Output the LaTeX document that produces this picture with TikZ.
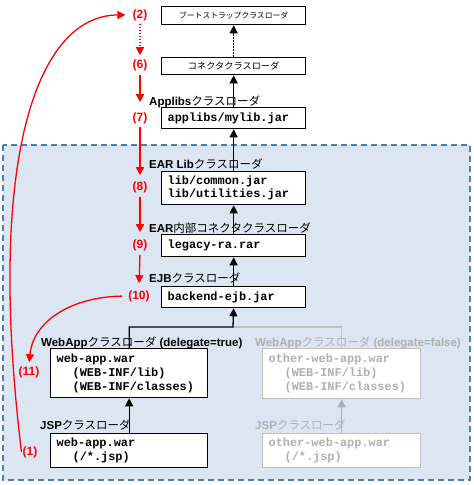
\documentclass[tikz,border=0pt]{standalone}
\usepackage{fontspec}
\setmainfont{Liberation Sans}
\setmonofont{Liberation Mono}
\newfontfamily\jp{Noto Sans CJK JP}
\usetikzlibrary{arrows.meta}
\definecolor{myred}{HTML}{FF0000}
\definecolor{regfill}{HTML}{DCE6F2}
\definecolor{regline}{HTML}{4A7EBB}
\definecolor{ghost}{HTML}{B0B0B0}
\definecolor{ghostline}{HTML}{C0C0C0}
\newcommand{\jpt}[1]{{\mdseries\jp #1}}
\begin{document}
\begin{tikzpicture}[x=1pt,y=-1pt,
  box/.style={draw=black, line width=1.3pt, fill=white, inner xsep=6pt, inner ysep=0pt,
    text width=132pt, align=left, anchor=north west,
    font=\ttfamily\bfseries\fontsize{11.9}{14}\selectfont},
  gbox/.style={box, draw=ghostline, text=ghost, text width=134pt},
  cbox/.style={draw=black, line width=1.3pt, fill=white, inner sep=0pt,
    minimum width=144pt, anchor=north west, font=\jp},
  lab/.style={anchor=base west, inner sep=0pt, font=\bfseries\fontsize{11.5}{12}\selectfont},
  glab/.style={lab, text=ghost},
  rlab/.style={inner sep=1pt, text=myred, font=\bfseries\fontsize{12}{12}\selectfont},
  tip/.style={-{Triangle[width=8pt,length=8pt]}},
  barrow/.style={tip, draw=black, line width=1.3pt},
  garrow/.style={tip, draw=ghost, line width=1.3pt},
  gline/.style={draw=ghostline, line width=1.3pt},
  rarrow/.style={tip, draw=myred, line width=1.3pt},
  dots/.style={dash pattern=on 1.6pt off 1.4pt}
]
\useasboundingbox (0,0) rectangle (474,485);
% region
\draw[regline, fill=regfill, line width=1.4pt, dash pattern=on 6pt off 4pt] (3,145) rectangle (470,480);

% column boxes
\node[cbox, minimum height=18pt, font=\jp\fontsize{7.8}{9}\selectfont] (boot) at (161,6) {ブートストラップクラスローダ};
\node[cbox, minimum height=17pt, font=\jp\fontsize{9.2}{10}\selectfont] (conn) at (161,57) {コネクタクラスローダ};
\node[box, minimum height=21pt] (applibs) at (161,107) {applibs/mylib.jar};
\node[box, minimum height=33pt, font=\ttfamily\bfseries\fontsize{11.9}{13.3}\selectfont] (earlib) at (161,171) {lib/common.jar\\lib/utilities.jar};
\node[box, minimum height=22pt] (legacy) at (161,234) {legacy-ra.rar};
\node[box, minimum height=21pt] (backend) at (161,286) {backend-ejb.jar};
\node[box, minimum height=49pt, text width=145pt] (web) at (50,348) {web-app.war\\\hspace*{16pt}(WEB-INF/lib)\\\hspace*{16pt}(WEB-INF/classes)};
\node[box, minimum height=34pt, text width=145pt] (jsp) at (50,433) {web-app.war\\\hspace*{16pt}(/*.jsp)};
\node[gbox, minimum height=50pt, text width=146pt] (oweb) at (262,348) {other-web-app.war\\\hspace*{16pt}(WEB-INF/lib)\\\hspace*{16pt}(WEB-INF/classes)};
\node[gbox, minimum height=34pt, text width=146pt] (ojsp) at (262,433) {other-web-app.war\\\hspace*{16pt}(/*.jsp)};

% labels
\node[lab] (lapp) at (149,105) {Applibs\jpt{クラスローダ}};
\node[lab] (lear) at (149,168) {EAR Lib\jpt{クラスローダ}};
\node[lab] (learc) at (149,232) {EAR\jpt{内部コネクタクラスローダ}};
\node[lab] (lejb) at (149,282) {EJB\jpt{クラスローダ}};
\node[lab] (lweb) at (41,346) {WebApp\jpt{クラスローダ} (delegate=true)};
\node[lab] (ljsp) at (40,429) {JSP\jpt{クラスローダ}};
\node[glab] (loweb) at (255,346) {WebApp\jpt{クラスローダ} (delegate=false)};
\node[glab] (lojsp) at (255,429) {JSP\jpt{クラスローダ}};

% red step labels
\node[rlab] (r2) at (140,15) {(2)};
\node[rlab] (r6) at (140,65) {(6)};
\node[rlab] (r7) at (140,118) {(7)};
\node[rlab] (r8) at (140,187) {(8)};
\node[rlab] (r9) at (140,245) {(9)};
\node[rlab] (r10) at (139,296) {(10)};
\node[rlab] (r11) at (29,372) {(11)};
\node[rlab] (r1) at (30,452) {(1)};

% black delegation arrows
\draw[barrow, dots] (conn.north) -- (boot.south);
\draw[barrow] (applibs.north) -- (conn.south);
\draw[barrow] (earlib.north) -- (applibs.south);
\draw[barrow] (legacy.north) -- (earlib.south);
\draw[barrow] (backend.north) -- (legacy.south);
\coordinate (j) at (233,327);
\draw[gline] (oweb.north) |- (j);
\draw[barrow] (web.north) |- (j) -- (backend.south);
\draw[barrow] (jsp.north) -- (web.south);
\draw[garrow] (ojsp.north) -- (oweb.south);

% red search order
\draw[rarrow, dots, shorten <=2pt, shorten >=3pt] (r2.south) -- (r6.north);
\draw[rarrow, shorten <=3pt, shorten >=9pt] (r6.south) -- (r7.north);
\draw[rarrow, shorten <=2pt, shorten >=5pt] (r7.south) -- (r8.north);
\draw[rarrow, shorten <=3pt, shorten >=6pt] (r8.south) -- (r9.north);
\draw[rarrow, shorten <=3pt, shorten >=6pt] (r9.south) -- (r10.north);
\draw[rarrow, shorten <=5pt, shorten >=3pt] (r10.west) .. controls (70,297) and (33,322) .. (r11.north);
\draw[rarrow, shorten >=6pt] (r1.west) .. controls (-15,150) and (40,15) .. (r2.west);
\end{tikzpicture}
\end{document}
